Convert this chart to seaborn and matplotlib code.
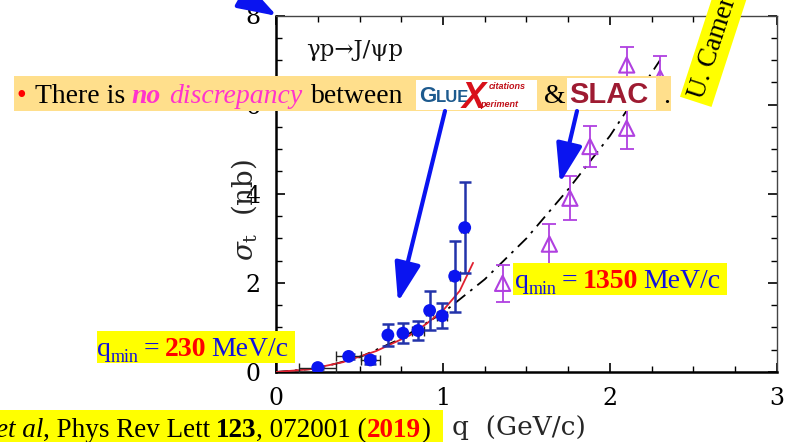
import numpy as np
import pandas as pd
import seaborn as sns
import matplotlib
matplotlib.use("Agg")
import matplotlib.pyplot as plt
from matplotlib.patches import Rectangle, FancyArrowPatch

# ---------------- data ----------------
gluex_q = [0.25, 0.435, 0.565, 0.67, 0.76, 0.85, 0.92, 0.995, 1.07, 1.13]
gluex_sigma = [0.10, 0.35, 0.27, 0.83, 0.87, 0.93, 1.38, 1.26, 2.15, 3.24]
gluex_yerr = [0.04, 0.06, 0.08, 0.25, 0.22, 0.22, 0.44, 0.28, 0.80, 1.02]
gluex_xerr = [0.11, 0.075, 0.055, 0.02, 0.02, 0.035, 0.02, 0.03, 0.03, 0.02]

slac_q = [1.357, 1.637, 1.76, 1.88, 2.10, 2.10, 2.30]
slac_sigma = [1.99, 2.87, 3.90, 5.06, 5.47, 6.89, 6.60]
slac_err = [0.41, 0.45, 0.50, 0.45, 0.46, 0.40, 0.48]

dash_q = [0.0, 0.25, 0.5, 0.75, 1.0, 1.25, 1.5, 1.75, 2.0, 2.3]
dash_sigma = [0.0, 0.08, 0.33, 0.75, 1.33, 2.08, 3.0, 4.1, 5.3, 7.0]

red_q = [0.0, 0.2, 0.4, 0.6, 0.8, 0.9, 1.0, 1.1, 1.18]
red_sigma = [0.0, 0.06, 0.22, 0.47, 0.82, 1.08, 1.38, 1.82, 2.45]

x_ticks = [0, 1, 2, 3]
y_ticks = [0, 2, 4, 6, 8]

# ---------------- style ----------------
sns.set_style("ticks")
plt.rcParams["font.family"] = ["DejaVu Serif"]
plt.rcParams["mathtext.fontset"] = "dejavuserif"

W, H = 786, 442
fig = plt.figure(figsize=(W / 100, H / 100), dpi=100)
fig.patch.set_facecolor("white")


def fx(x):
    return x / W


def fy(y):
    return 1 - y / H


ax = fig.add_axes([fx(276), fy(372), (777 - 276) / W, (372 - 15.5) / H])
ax.set_facecolor("white")

df_g = pd.DataFrame({"q": gluex_q, "sigma": gluex_sigma})
df_s = pd.DataFrame({"q": slac_q, "sigma": slac_sigma})

# curves
sns.lineplot(x=dash_q, y=dash_sigma, ax=ax, color="black", lw=1.3,
             linestyle=(0, (7, 3.5, 1.5, 3.5)), zorder=2)
sns.lineplot(x=red_q, y=red_sigma, ax=ax, color="#E02030", lw=1.3, zorder=3)

# GlueX
ax.errorbar(gluex_q, gluex_sigma, xerr=gluex_xerr, fmt="none", ecolor="#222222",
            elinewidth=1.0, capsize=3.5, capthick=1.0, zorder=3)
ax.errorbar(gluex_q, gluex_sigma, yerr=gluex_yerr, fmt="none", ecolor="#2233AA",
            elinewidth=1.8, capsize=4.5, capthick=1.8, zorder=3)
sns.scatterplot(data=df_g, x="q", y="sigma", ax=ax, color="#0A14F0", s=85,
                edgecolor="none", zorder=4, legend=False)

# SLAC
ax.errorbar(slac_q, slac_sigma, yerr=slac_err, fmt="none", ecolor="#B040E0",
            elinewidth=1.3, capsize=5, capthick=1.3, zorder=3)
sns.scatterplot(data=df_s, x="q", y="sigma", ax=ax, marker="^", s=120,
                facecolors="none", edgecolor="#B040E0", linewidth=1.5,
                zorder=4, legend=False)

ax.set_xlim(0, 3)
ax.set_ylim(0, 8)
ax.set_xticks(x_ticks)
ax.set_yticks(y_ticks)
ax.set_xticks(np.arange(0, 3.01, 0.25), minor=True)
ax.set_yticks(np.arange(0, 8.01, 0.5), minor=True)
ax.set_xticklabels([str(t) for t in x_ticks])
ax.set_yticklabels([str(t) for t in y_ticks])
ax.tick_params(which="both", direction="in", top=True, right=True,
               labelsize=17, colors="black")
ax.tick_params(which="major", length=6.5, width=1.2)
ax.tick_params(which="minor", length=4.5, width=1.0)
ax.tick_params(axis="x", pad=11)
ax.tick_params(axis="y", pad=11)
ax.set_xlabel("")
ax.set_ylabel("")
for s in ["left", "bottom"]:
    ax.spines[s].set_linewidth(1.8)
    ax.spines[s].set_color("black")
for s in ["top", "right"]:
    ax.spines[s].set_linewidth(1.0)
    ax.spines[s].set_color("#444444")

ax.text(0.18, 7.1, "γp→J/ψp", fontsize=16.5, color="#111111",
        ha="left", va="baseline", family="DejaVu Serif")

# axis labels
fig.text(fx(244), fy(210), r"$\sigma_{\rm t}$  (nb)", rotation=90, fontsize=20,
         ha="center", va="center", family="DejaVu Serif")
fig.text(fx(452), fy(435), "q  (GeV/c)", fontsize=19, ha="left",
         va="baseline", family="DejaVu Serif", zorder=6)

renderer = fig.canvas.get_renderer()


def rect(x0, y0, x1, y1, color, z=4):
    fig.add_artist(Rectangle((fx(x0), fy(y1)), (x1 - x0) / W, (y1 - y0) / H,
                             transform=fig.transFigure, facecolor=color,
                             edgecolor="none", zorder=z))


def rich(x, y, pieces, z=6):
    for s, kw in pieces:
        kw = dict(kw)
        gap = kw.pop("gap", 0)
        dy = kw.pop("dy", 0)
        x += gap
        kw.setdefault("family", "Liberation Serif")
        t = fig.text(fx(x), fy(y + dy), s, ha="left", va="baseline",
                     zorder=z, **kw)
        x += t.get_window_extent(renderer).width
    return x


# ---------------- bullet line ----------------
rect(14, 76, 671, 110.5, "#FFDF8C")
MAG = "#FF33CC"
rich(16, 103, [
    ("•", dict(color="red", fontsize=20)),
    ("There is", dict(color="black", fontsize=20, gap=9)),
    ("no", dict(color=MAG, fontsize=20, weight="bold", style="italic", gap=7)),
    ("discrepancy", dict(color=MAG, fontsize=20, style="italic", gap=8)),
    ("between", dict(color="black", fontsize=20, gap=9)),
])
# GlueX logo (as text)
rect(416, 80, 537, 110, "white", z=5)
rich(419, 102, [
    ("G", dict(color="#1D5A8E", fontsize=16, weight="bold", family="Liberation Sans")),
    ("LUE", dict(color="#1D5A8E", fontsize=12, weight="bold", family="Liberation Sans")),
])
rich(462, 108, [("X", dict(color="#D8101A", fontsize=26, weight="bold",
                           style="italic", family="Liberation Sans"))])
rich(489, 89, [("citations", dict(color="#C0101A", fontsize=6.5,
                                  style="italic", weight="bold", family="Liberation Sans"))])
rich(480, 107, [("periment", dict(color="#C0101A", fontsize=6.5,
                                  style="italic", weight="bold", family="Liberation Sans"))])
rich(544, 103, [("&", dict(color="black", fontsize=20))])
# SLAC logo (as text)
rect(567, 78, 656, 110, "white", z=5)
rich(569, 103, [("SLAC", dict(color="#9E1B32", fontsize=21, weight="bold",
                              family="Liberation Sans"))])
rich(663, 103, [(".", dict(color="black", fontsize=20))])

# ---------------- q_min labels ----------------
YEL = "#FFFF00"
rect(97, 331, 295, 363, YEL)
rich(97, 356, [
    ("q", dict(color="#1010E0", fontsize=20)),
    ("min", dict(color="#1010E0", fontsize=13, dy=6)),
    ("=", dict(color="#1010E0", fontsize=20, gap=5)),
    ("230", dict(color="red", fontsize=20, weight="bold", gap=5)),
    ("MeV/c", dict(color="#1010E0", fontsize=20, gap=5)),
])
rect(513, 263, 727, 295, YEL)
rich(515, 288, [
    ("q", dict(color="#1010E0", fontsize=20)),
    ("min", dict(color="#1010E0", fontsize=13, dy=6)),
    ("=", dict(color="#1010E0", fontsize=20, gap=5)),
    ("1350", dict(color="red", fontsize=20, weight="bold", gap=5)),
    ("MeV/c", dict(color="#1010E0", fontsize=20, gap=5)),
])

# ---------------- citation ----------------
rect(0, 410, 443, 442, YEL)
rich(-4, 437, [
    ("et al", dict(color="black", fontsize=19.5, style="italic")),
    (", Phys Rev Lett", dict(color="black", fontsize=19.5)),
    ("123", dict(color="black", fontsize=19.5, weight="bold", gap=5)),
    (", 072001 (", dict(color="black", fontsize=19.5)),
    ("2019", dict(color="red", fontsize=19.5, weight="bold")),
    (")", dict(color="black", fontsize=19.5)),
])

# ---------------- rotated name ----------------
fig.text(fx(697), fy(98), "U. Camerini", rotation=72, rotation_mode="anchor",
         ha="left", va="center", fontsize=19.5, family="Liberation Serif",
         color="black", zorder=7,
         bbox=dict(facecolor=YEL, edgecolor="none", pad=3))

# ---------------- arrows ----------------
def arrow(x0, y0, x1, y1):
    fig.add_artist(FancyArrowPatch((fx(x0), fy(y0)), (fx(x1), fy(y1)),
                                   transform=fig.transFigure,
                                   arrowstyle="-|>,head_length=1.2,head_width=0.4",
                                   mutation_scale=20, lw=3, color="#0A14F0",
                                   shrinkA=0, shrinkB=0, zorder=5))


arrow(210, -22, 277, 16)
arrow(445, 111, 398, 302)
arrow(577, 111, 560, 183)

fig.savefig("out.png", dpi=100)
